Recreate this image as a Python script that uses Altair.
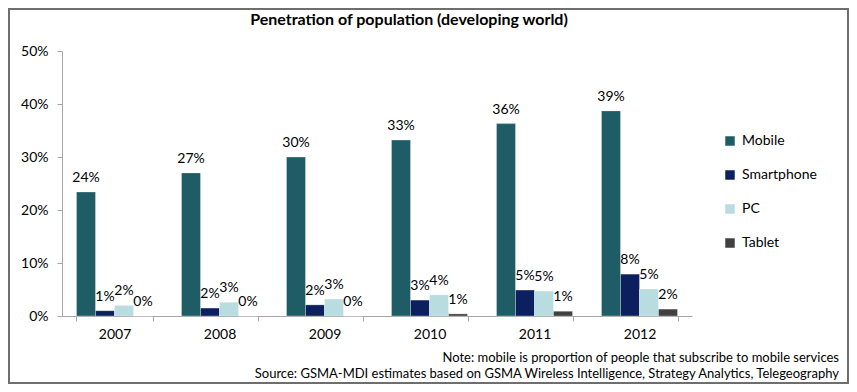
import altair as alt
import pandas as pd

years = ["2007", "2008", "2009", "2010", "2011", "2012"]
series = ["Mobile", "Smartphone", "PC", "Tablet"]
colors = ["#1F5D66", "#0C1F5E", "#B8DCE0", "#404040"]

mobile = [0.234, 0.270, 0.300, 0.332, 0.363, 0.387]
smartphone = [0.010, 0.015, 0.021, 0.030, 0.049, 0.079]
pc = [0.020, 0.026, 0.032, 0.040, 0.047, 0.051]
tablet = [0.000, 0.000, 0.000, 0.004, 0.009, 0.013]

mobile_lbl = ["24%", "27%", "30%", "33%", "36%", "39%"]
smartphone_lbl = ["1%", "2%", "2%", "3%", "5%", "8%"]
pc_lbl = ["2%", "3%", "3%", "4%", "5%", "5%"]
tablet_lbl = ["0%", "0%", "0%", "1%", "1%", "2%"]

title_text = "Penetration of population (developing world)"
note_text = "Note: mobile is proportion of people that subscribe to mobile services"
source_text = "Source: GSMA-MDI estimates based on GSMA Wireless Intelligence, Strategy Analytics, Telegeography"

rows = []
for s, vals, lbls in zip(series, [mobile, smartphone, pc, tablet],
                         [mobile_lbl, smartphone_lbl, pc_lbl, tablet_lbl]):
    for y, v, l in zip(years, vals, lbls):
        rows.append({"year": y, "series": s, "value": v, "label": l})
df = pd.DataFrame(rows)

W, H = 630, 265
PL, PT, PR, PB = 54, 43, 157, 68
FONT = "Lato"

x_enc = alt.X("year:N", sort=years, title=None,
              scale=alt.Scale(paddingInner=0.276, paddingOuter=0.138),
              axis=alt.Axis(labelAngle=0, tickBand="extent", tickSize=5,
                            labelPadding=6, domainColor="#A6A6A6",
                            tickColor="#A6A6A6", labelFontSize=14,
                            labelColor="#000000", labelFont=FONT))
xoff = alt.XOffset("series:N", sort=series,
                   scale=alt.Scale(paddingInner=0, paddingOuter=0))
y_enc = alt.Y("value:Q", title=None,
              scale=alt.Scale(domain=[0, 0.5], nice=False),
              axis=alt.Axis(values=[0, 0.1, 0.2, 0.3, 0.4, 0.5], format=".0%",
                            grid=False, tickSize=5, labelPadding=9,
                            domainColor="#A6A6A6", tickColor="#A6A6A6",
                            labelFontSize=14, labelColor="#000000",
                            labelFont=FONT))

bars = alt.Chart(df).mark_bar(stroke="#FFFFFF", strokeWidth=0.6,
                              strokeOpacity=0.5).encode(
    x=x_enc, xOffset=xoff, y=y_enc,
    color=alt.Color("series:N", sort=series,
                    scale=alt.Scale(domain=series, range=colors),
                    legend=alt.Legend(title=None, orient="none",
                                      legendX=661, legendY=83,
                                      symbolType="square", symbolSize=90,
                                      symbolStrokeWidth=0, labelFontSize=14,
                                      labelFont=FONT, labelColor="#000000",
                                      labelOffset=5, rowPadding=20)))

labels = alt.Chart(df).mark_text(baseline="alphabetic", dy=-10, fontSize=14,
                                 font=FONT, color="#000000").encode(
    x=alt.X("year:N", sort=years), xOffset=alt.XOffset("series:N", sort=series),
    y="value:Q", text="label:N")

one = pd.DataFrame({"k": [0]})
title = alt.Chart(one).mark_text(text=title_text, fontSize=16, fontWeight="bold",
                                 font=FONT, color="#000000", align="center",
                                 baseline="middle").encode(
    x=alt.value(347), y=alt.value(-31))
note = alt.Chart(one).mark_text(text=note_text, fontSize=13, font=FONT,
                                color="#000000", align="right",
                                baseline="middle").encode(
    x=alt.value(777), y=alt.value(H + 42))
source = alt.Chart(one).mark_text(text=source_text, fontSize=13, font=FONT,
                                  color="#000000", align="right",
                                  baseline="middle").encode(
    x=alt.value(777), y=alt.value(H + 58))
frame = alt.Chart(one).mark_rect(fill=None, stroke="#6E6E6E",
                                 strokeWidth=2).encode(
    x=alt.value(-PL + 1), x2=alt.value(W + PR - 1),
    y=alt.value(-PT + 1), y2=alt.value(H + PB - 1))

chart = alt.layer(bars, labels, title, note, source, frame).properties(
    width=W, height=H, autosize=alt.AutoSizeParams(type="none"),
    padding={"left": PL, "top": PT, "right": PR, "bottom": PB},
    background="#FFFFFF"
).configure_view(stroke=None)

chart.save("out.html", embed_options={"renderer": "svg", "actions": False})
